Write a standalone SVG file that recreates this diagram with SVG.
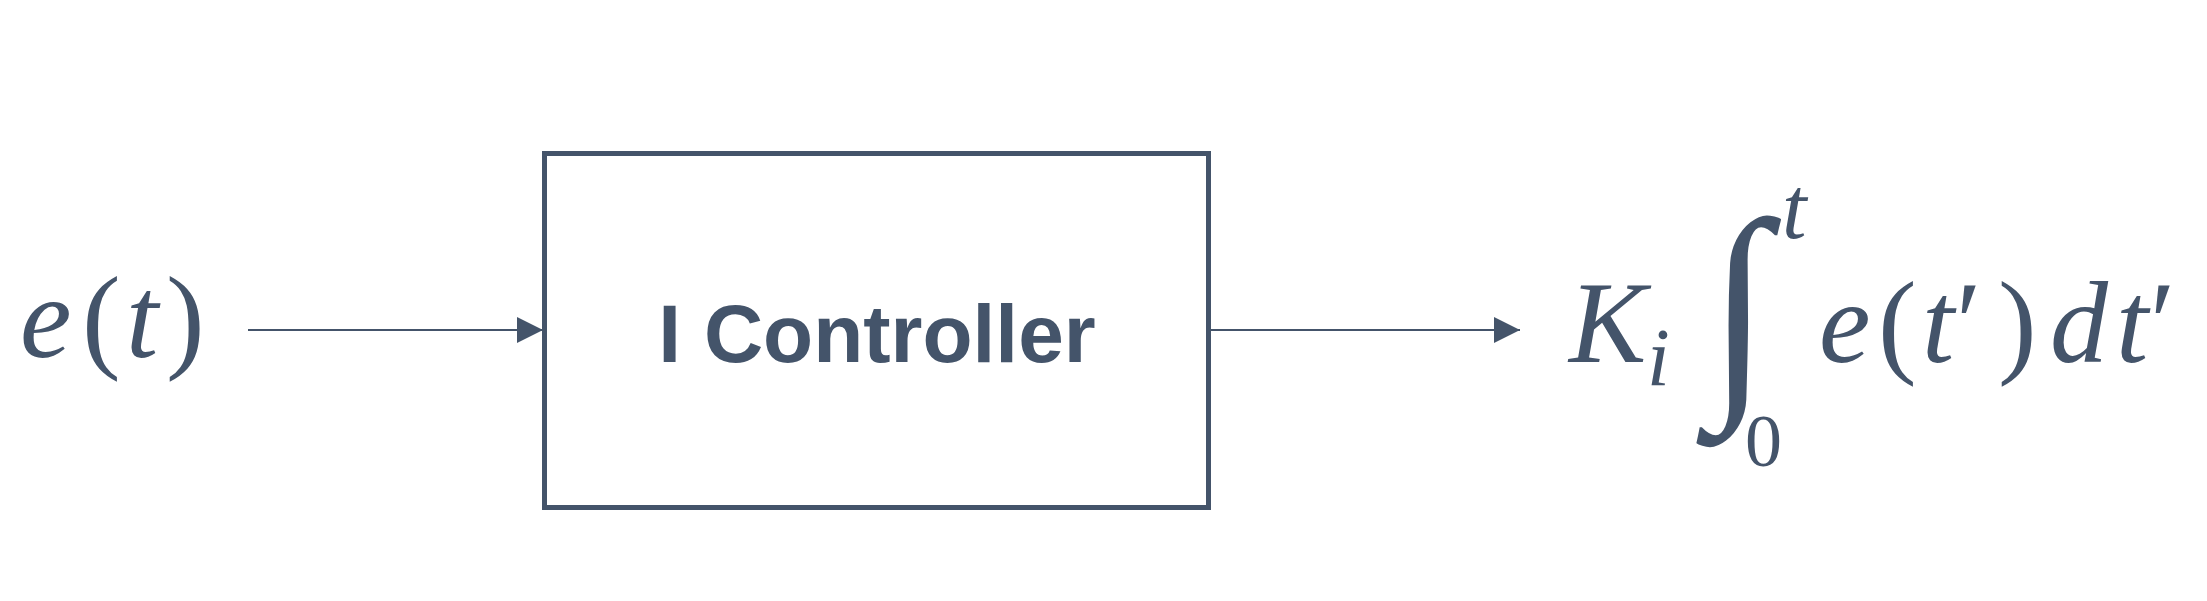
<svg xmlns="http://www.w3.org/2000/svg" width="2207" height="601" viewBox="0 0 2207 601">
<style>
.m{font-family:"Liberation Serif","Times New Roman",serif;fill:#44546a}
.it{font-style:italic}
.lbl{font-family:"Liberation Sans",Arial,sans-serif;font-weight:bold;fill:#44546a}
.conn{stroke:#44546a;stroke-width:2;fill:none}
</style>
<defs>
<marker id="arr" markerUnits="userSpaceOnUse" markerWidth="26" markerHeight="26" refX="26" refY="13" orient="auto">
<path d="M0,0 L26,13 L0,26 Z" fill="#44546a"/>
</marker>
</defs>
<rect width="2207" height="601" fill="#ffffff"/>
<g id="input">
<text class="m" font-size="116" y="357"><tspan class="it" x="20">e</tspan><tspan x="82">(</tspan><tspan class="it" x="126">t</tspan><tspan x="166">)</tspan></text>
</g>
<g id="controller">
<rect x="544.5" y="153.5" width="664" height="354" fill="#ffffff" stroke="#44546a" stroke-width="5"/>
<text class="lbl" x="877" y="362" font-size="82" text-anchor="middle">I Controller</text>
</g>
<g id="output">
<text class="m it" x="1569" y="362" font-size="116">K</text>
<text class="m it" x="1647" y="385" font-size="82">i</text>
<g transform="translate(1708,384) scale(0.95,1)"><text class="m" x="0" y="0" font-size="236">∫</text></g>
<text class="m it" x="1782" y="238" font-size="88">t</text>
<text class="m" x="1745" y="466" font-size="74">0</text>
<text class="m" font-size="116" y="362"><tspan class="it" x="1819">e</tspan><tspan x="1878">(</tspan><tspan class="it" x="1922">t</tspan><tspan x="1956">′</tspan><tspan x="1998">)</tspan><tspan class="it" x="2050">d</tspan><tspan class="it" x="2116">t</tspan><tspan x="2150">′</tspan></text>
</g>
<g id="connectors">
<line class="conn" x1="248" y1="330" x2="543" y2="330" marker-end="url(#arr)"/>
<line class="conn" x1="1211" y1="330" x2="1520" y2="330" marker-end="url(#arr)"/>
</g>
</svg>
